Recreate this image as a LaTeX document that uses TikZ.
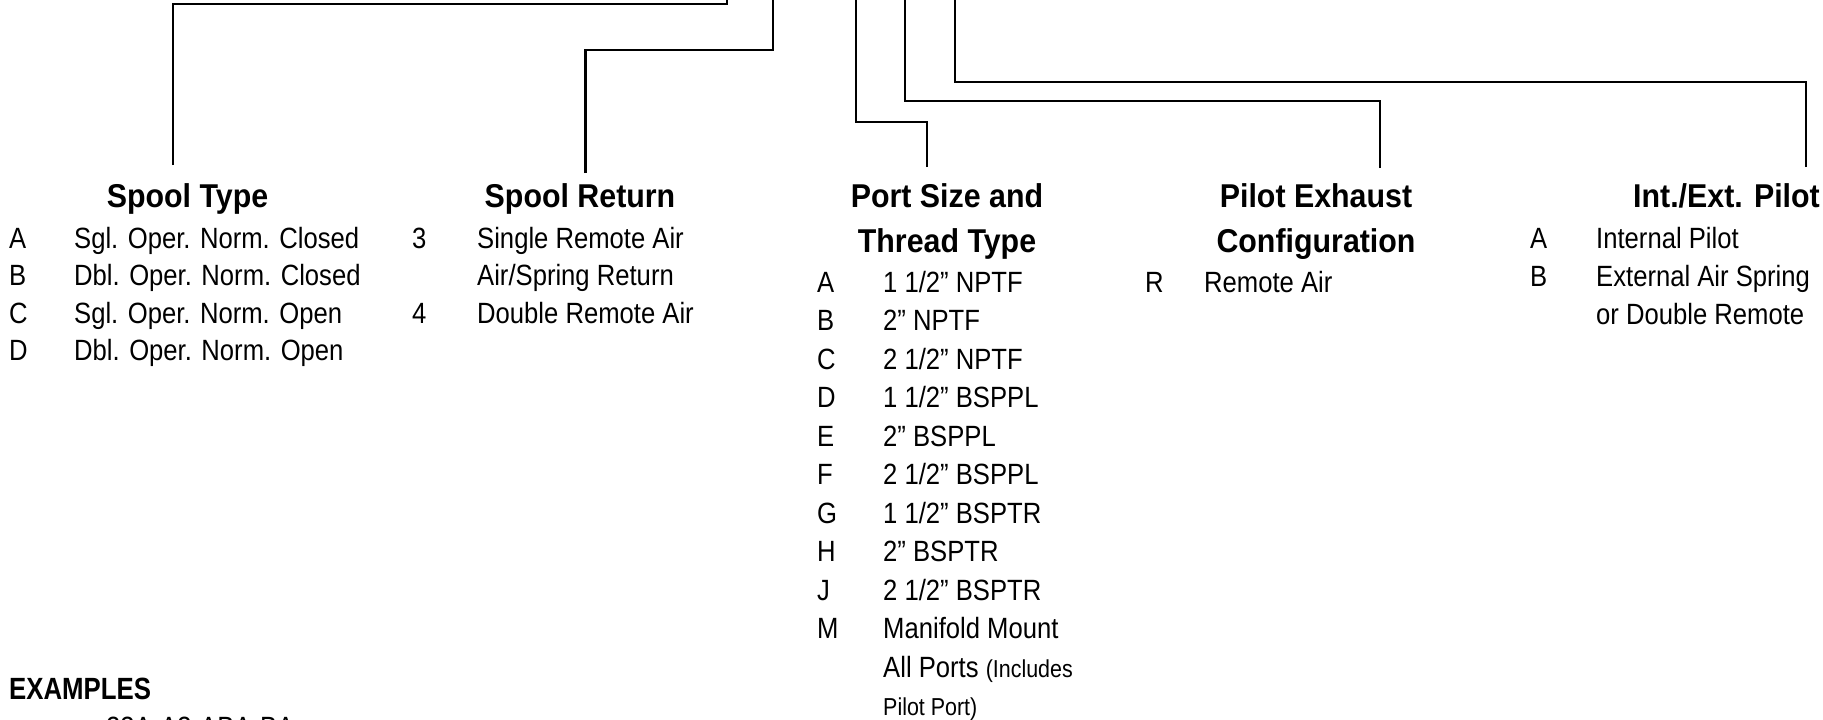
\documentclass[tikz,border=0pt]{standalone}
\usepackage{fontspec}
\setmainfont{Liberation Sans}
\newfontfamily\bodyf{Liberation Sans}[FakeStretch=0.875]
\newfontfamily\headf{Liberation Sans}[FakeStretch=0.92]
\newfontfamily\exf{Liberation Sans}[FakeStretch=0.84]
\tikzset{
  item/.style={font=\bodyf\fontsize{29.3}{35}\selectfont, inner sep=0pt, anchor=base west},
  smallitem/.style={font=\bodyf\fontsize{24.5}{30}\selectfont, inner sep=0pt, anchor=base west},
  head/.style={font=\headf\bfseries\fontsize{33}{40}\selectfont, inner sep=0pt, anchor=base},
  exhead/.style={font=\exf\bfseries\fontsize{30.7}{36}\selectfont, inner sep=0pt, anchor=base west},
  conn/.style={line width=2.2pt, line join=miter, draw=black}
}
\begin{document}
\begin{tikzpicture}[x=1pt,y=-1pt]
\useasboundingbox (0,0) rectangle (1823,720);

% headings
\node[head] (hst) at (187.5,207) {Spool Type};
\node[head] (hsr) at (580,207) {Spool Return};
\node[head] (hps1) at (947,207) {Port Size and};
\node[head] (hps2) at (947,252) {Thread Type};
\node[head] (hpe1) at (1316,207) {Pilot Exhaust};
\node[head] (hpe2) at (1316,252) {Configuration};
\node[head, anchor=base east] (hie) at (1820,207) {Int./Ext. Pilot};

% connector coordinates
\coordinate (st-end) at (173,165);  \coordinate (st-knee) at (726.7,4);   \coordinate (st-top) at (726.7,-3);
\coordinate (sr-end) at (585.5,173);\coordinate (sr-knee) at (773,50);    \coordinate (sr-top) at (773,-3);
\coordinate (ps-end) at (926.7,167);\coordinate (ps-knee) at (856,122);   \coordinate (ps-top) at (856,-3);
\coordinate (pe-end) at (1380,168); \coordinate (pe-knee) at (905.3,101); \coordinate (pe-top) at (905.3,-3);
\coordinate (ie-end) at (1806,167); \coordinate (ie-knee) at (955.3,81.7);\coordinate (ie-top) at (955.3,-3);

\draw[conn] (st-end) |- (st-knee) -- (st-top);
\draw[conn] (sr-end) |- (sr-knee) -- (sr-top);
\draw[conn] (ps-end) |- (ps-knee) -- (ps-top);
\draw[conn] (pe-end) |- (pe-knee) -- (pe-top);
\draw[conn] (ie-end) |- (ie-knee) -- (ie-top);

% Spool Type
\node[item] (stA) at (9,248) {A};     \node[item] (stAt) at (74,248) {Sgl. Oper. Norm. Closed};
\node[item] (stB) at (9,285.5) {B};   \node[item] (stBt) at (74,285.5) {Dbl. Oper. Norm. Closed};
\node[item] (stC) at (9,323) {C};     \node[item] (stCt) at (74,323) {Sgl. Oper. Norm. Open};
\node[item] (stD) at (9,360.5) {D};   \node[item] (stDt) at (74,360.5) {Dbl. Oper. Norm. Open};

% Spool Return
\node[item] (sr3) at (412,248) {3};   \node[item] (sr3t) at (477,248) {Single Remote Air};
\node[item] (sr3b) at (477,285.5) {Air/Spring Return};
\node[item] (sr4) at (412,323) {4};   \node[item] (sr4t) at (477,323) {Double Remote Air};

% Port Size
\node[item] (psA) at (817,292) {A};   \node[item] (psAt) at (883,292) {1 1/2” NPTF};
\node[item] (psB) at (817,330.5) {B}; \node[item] (psBt) at (883,330.5) {2” NPTF};
\node[item] (psC) at (817,369) {C};   \node[item] (psCt) at (883,369) {2 1/2” NPTF};
\node[item] (psD) at (817,407.5) {D}; \node[item] (psDt) at (883,407.5) {1 1/2” BSPPL};
\node[item] (psE) at (817,446) {E};   \node[item] (psEt) at (883,446) {2” BSPPL};
\node[item] (psF) at (817,484.5) {F}; \node[item] (psFt) at (883,484.5) {2 1/2” BSPPL};
\node[item] (psG) at (817,523) {G};   \node[item] (psGt) at (883,523) {1 1/2” BSPTR};
\node[item] (psH) at (817,561.5) {H}; \node[item] (psHt) at (883,561.5) {2” BSPTR};
\node[item] (psJ) at (817,600) {J};   \node[item] (psJt) at (883,600) {2 1/2” BSPTR};
\node[item] (psM) at (817,638.5) {M}; \node[item] (psMt) at (883,638.5) {Manifold Mount};
\node[item] (psM2) at (883,677) {All Ports {\fontsize{24.5}{30}\selectfont(Includes}};
\node[smallitem] (psM3) at (883,715) {Pilot Port)};

% Pilot Exhaust
\node[item] (peR) at (1145,292) {R};  \node[item] (peRt) at (1204,292) {Remote Air};

% Int/Ext Pilot
\node[item] (ieA) at (1530,248) {A};  \node[item] (ieAt) at (1596,248) {Internal Pilot};
\node[item] (ieB) at (1530,286) {B};  \node[item] (ieBt) at (1596,286) {External Air Spring};
\node[item] (ieB2) at (1596,324) {or Double Remote};

% Examples
\node[exhead] (ex) at (9,699) {EXAMPLES};
\node[item] (ex1) at (106,737) {23A-A3-ABA-BA};
\end{tikzpicture}
\end{document}
